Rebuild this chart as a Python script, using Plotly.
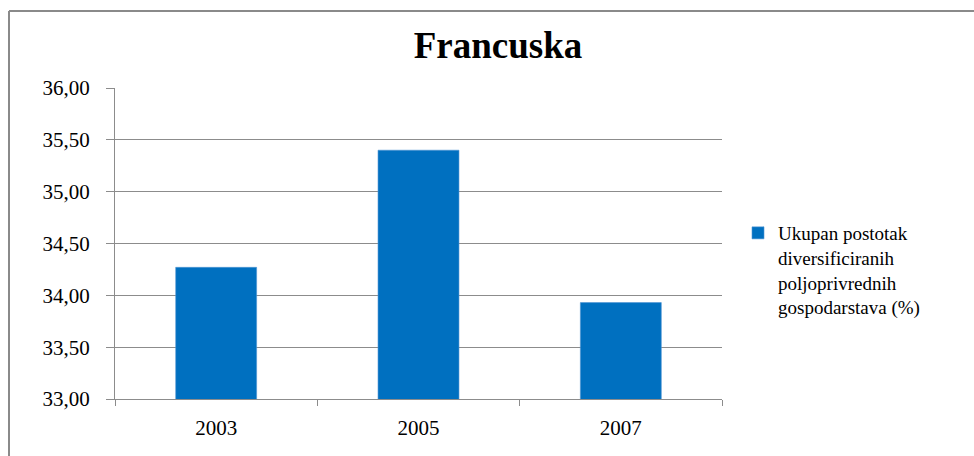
import plotly.graph_objects as go

# ---------------------------------------------------------------------------
# Data
# ---------------------------------------------------------------------------
years = ["2003", "2005", "2007"]
share_diversified = [34.27, 35.40, 33.93]
series_name = "Ukupan postotak<br>diversificiranih<br>poljoprivrednih<br>gospodarstava (%)"
y_ticks = [33.0, 33.5, 34.0, 34.5, 35.0, 35.5, 36.0]

# ---------------------------------------------------------------------------
# Figure
# ---------------------------------------------------------------------------
W, H = 974, 456
L, R, T, B = 115, 252, 88, 57
plot_w = W - L - R
plot_h = H - T - B

FONT = "Liberation Serif"
GRID = "#8c8c8c"

fig = go.Figure()
fig.add_trace(
    go.Bar(
        x=years,
        y=share_diversified,
        name=series_name,
        width=0.4,
        marker=dict(color="#0070C0", line=dict(color="#4f94d4", width=0.6)),
        showlegend=True,
    )
)


def px_x(px):
    return (px - L) / plot_w


def px_y(py):
    return (H - B - py) / plot_h


# outer chart frame (top and left edges visible, the rest is cropped)
frame = dict(color="#8a8a8a", width=2)
fig.add_shape(type="line", xref="paper", yref="paper",
              x0=px_x(9), x1=px_x(W + 10), y0=px_y(11), y1=px_y(11), line=frame)
fig.add_shape(type="line", xref="paper", yref="paper",
              x0=px_x(9), x1=px_x(9), y0=px_y(11), y1=px_y(H + 10), line=frame)

fig.update_layout(
    width=W,
    height=H,
    margin=dict(l=L, r=R, t=T, b=B),
    paper_bgcolor="white",
    plot_bgcolor="white",
    separators=",.",
    font=dict(family=FONT, size=21, color="#000"),
    title=dict(
        text="<b>Francuska</b>",
        x=498 / W,
        xanchor="center",
        y=1 - 45 / H,
        yanchor="middle",
        font=dict(family=FONT, size=37, color="#000"),
    ),
    legend=dict(
        x=px_x(738),
        xanchor="left",
        y=px_y(214),
        yanchor="top",
        valign="top",
        font=dict(family=FONT, size=19, color="#000"),
        bgcolor="rgba(0,0,0,0)",
    ),
    bargap=0.6,
)

fig.update_yaxes(
    range=[33, 36],
    tickvals=y_ticks,
    tickformat=".2f",
    showgrid=True,
    gridcolor=GRID,
    gridwidth=1,
    showline=True,
    linecolor=GRID,
    linewidth=1,
    ticks="outside",
    ticklen=8,
    tickcolor=GRID,
    ticklabelstandoff=12,
    zeroline=False,
    tickfont=dict(family=FONT, size=21, color="#000"),
)
fig.update_xaxes(
    showgrid=False,
    showline=True,
    linecolor=GRID,
    linewidth=1,
    ticks="outside",
    tickson="boundaries",
    ticklen=6,
    tickcolor=GRID,
    ticklabelstandoff=10,
    tickfont=dict(family=FONT, size=21, color="#000"),
)

# the page's default body margin would shift the chart by 8 px
fig.write_html(
    "out.html",
    config={"displayModeBar": False},
    post_script="document.body.style.margin='0';",
)
